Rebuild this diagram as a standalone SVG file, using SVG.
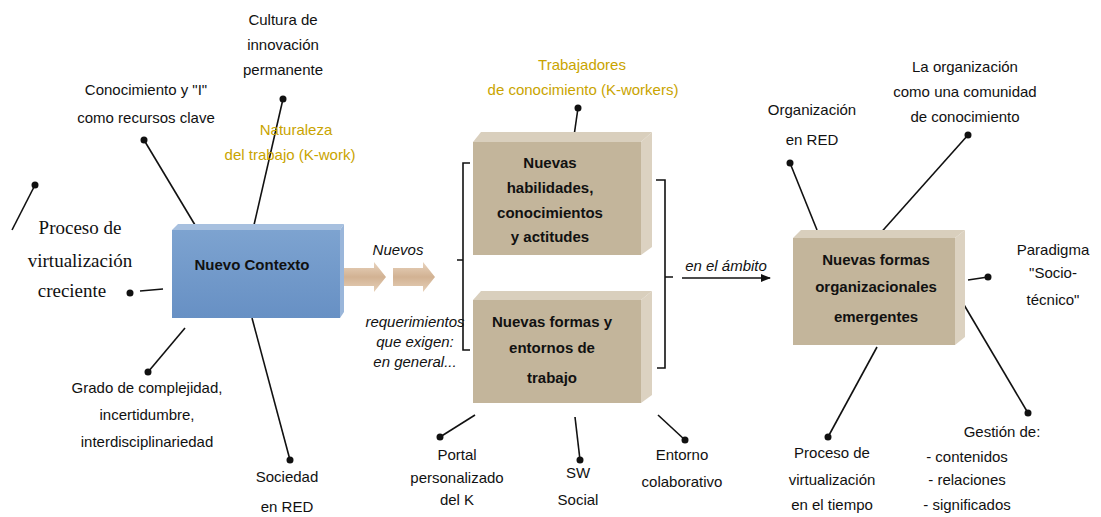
<svg xmlns="http://www.w3.org/2000/svg" width="1101" height="517" viewBox="0 0 1101 517">
<defs>
<style>
.lbl{font-family:"Liberation Sans",Arial,sans-serif;font-size:15px;fill:#111;text-anchor:middle}
.serif{font-family:"Liberation Serif","Times New Roman",serif;font-size:19px;fill:#111;text-anchor:middle}
.gold{font-family:"Liberation Sans",Arial,sans-serif;font-size:15px;fill:#c9a400;text-anchor:middle}
.box{font-family:"Liberation Sans",Arial,sans-serif;font-size:15px;font-weight:bold;fill:#111;text-anchor:middle}
.it{font-family:"Liberation Sans",Arial,sans-serif;font-size:15px;font-style:italic;fill:#111;text-anchor:middle}
.ln{stroke:#111;stroke-width:1.6;fill:none}
.dot{fill:#111}
.tan{fill:#c3b59b}
.tantop{fill:#d9cfbd}
.tanside{fill:#dcd2c1}
</style>
<linearGradient id="blue" x1="0" y1="0" x2="0" y2="1">
<stop offset="0" stop-color="#7da3d0"/><stop offset="1" stop-color="#6790c4"/>
</linearGradient>
<linearGradient id="arr" x1="0" y1="0" x2="0" y2="1">
<stop offset="0" stop-color="#e8d3bd"/><stop offset="0.5" stop-color="#d2b293"/><stop offset="1" stop-color="#e6d0b8"/>
</linearGradient>
<marker id="ah" markerWidth="10" markerHeight="8" refX="9" refY="4" orient="auto" markerUnits="userSpaceOnUse">
<path d="M0,0 L10,4 L0,8 Z" fill="#111"/>
</marker>
</defs>
<rect width="1101" height="517" fill="#fff"/>

<g id="connectors">
<path class="ln" d="M283,99 L251,238"/><circle class="dot" cx="283" cy="99" r="3.5"/>
<path class="ln" d="M144,140 L198,230"/><circle class="dot" cx="144" cy="140" r="3.5"/>
<path class="ln" d="M35,185 L12,230"/><circle class="dot" cx="35" cy="185" r="3.5"/>
<path class="ln" d="M140,291 L163,289"/><circle class="dot" cx="130" cy="293" r="3.5"/>
<path class="ln" d="M148,372 L185,328"/><circle class="dot" cx="148" cy="372" r="3.5"/>
<path class="ln" d="M290,460 L252,318"/><circle class="dot" cx="290" cy="460" r="3.5"/>
<path class="ln" d="M578,108 L573,143"/><circle class="dot" cx="578" cy="108" r="3.5"/>
<path class="ln" d="M440,437 L475,415"/><circle class="dot" cx="440" cy="437" r="3.5"/>
<path class="ln" d="M580,460 L575,417"/><circle class="dot" cx="580" cy="460" r="3.5"/>
<path class="ln" d="M685,440 L658,415"/><circle class="dot" cx="685" cy="440" r="3.5"/>
<path class="ln" d="M790,163 L817,230"/><circle class="dot" cx="790" cy="163" r="3.5"/>
<path class="ln" d="M968,135 L877,237"/><circle class="dot" cx="968" cy="135" r="3.5"/>
<path class="ln" d="M968,280 L988,277"/><circle class="dot" cx="988" cy="277" r="3.5"/>
<path class="ln" d="M828,437 L877,347"/><circle class="dot" cx="828" cy="437" r="3.5"/>
<path class="ln" d="M1028,413 L957,293"/><circle class="dot" cx="1028" cy="413" r="3.5"/>
<path class="ln" d="M470,163 H463 V350 H470 M463,260 H457"/>
<path class="ln" d="M656,180 H665 V368 H657 M665,277 H673"/>
<path class="ln" d="M682,278 H770" marker-end="url(#ah)"/>
<g id="block-arrows">
<path d="M344,268 H374 V262 L386,277 L374,292 V286 H344 Z" fill="url(#arr)"/>
<path d="M393,268 H423 V262 L435,277 L423,292 V286 H393 Z" fill="url(#arr)"/>
</g>
</g>

<g id="nuevo-contexto">
<rect x="172" y="230" width="168" height="88" fill="url(#blue)"/>
<path d="M172,230 L178,224 H344 L340,230 Z" fill="#a7c0df"/>
<path d="M340,230 L344,224 V312 L340,318 Z" fill="#9ab6da"/>
<text class="box" x="252" y="270">Nuevo Contexto</text>
</g>

<g id="habilidades">
<rect class="tan" x="473" y="142" width="168" height="113"/>
<path class="tantop" d="M473,142 L481,132 H652 L641,142 Z"/>
<path class="tanside" d="M641,142 L652,132 V247 L641,255 Z"/>
<text class="box" x="550" y="168">Nuevas</text>
<text class="box" x="550" y="193">habilidades,</text>
<text class="box" x="550" y="218">conocimientos</text>
<text class="box" x="550" y="242">y actitudes</text>
</g>

<g id="formas-trabajo">
<rect class="tan" x="473" y="300" width="168" height="103"/>
<path class="tantop" d="M473,300 L481,291 H652 L641,300 Z"/>
<path class="tanside" d="M641,300 L652,291 V395 L641,403 Z"/>
<text class="box" x="552" y="327">Nuevas formas y</text>
<text class="box" x="552" y="353">entornos de</text>
<text class="box" x="552" y="383">trabajo</text>
</g>

<g id="formas-organizacionales">
<rect class="tan" x="793" y="238" width="162" height="107"/>
<path class="tantop" d="M793,238 L801,230 H965 L955,238 Z"/>
<path class="tanside" d="M955,238 L965,230 V337 L955,345 Z"/>
<text class="box" x="876" y="265">Nuevas formas</text>
<text class="box" x="876" y="292">organizacionales</text>
<text class="box" x="876" y="322">emergentes</text>
</g>

<g id="labels">
<text class="lbl" x="283" y="25">Cultura de</text>
<text class="lbl" x="283" y="50">innovación</text>
<text class="lbl" x="283" y="75">permanente</text>
<text class="lbl" x="146" y="95">Conocimiento y "I"</text>
<text class="lbl" x="146" y="123">como recursos clave</text>
<text class="serif" x="80" y="234">Proceso de</text>
<text class="serif" x="80" y="267">virtualización</text>
<text class="serif" x="72" y="297">creciente</text>
<text class="lbl" x="147" y="393">Grado de complejidad,</text>
<text class="lbl" x="147" y="420">incertidumbre,</text>
<text class="lbl" x="147" y="447">interdisciplinariedad</text>
<text class="lbl" x="287" y="482">Sociedad</text>
<text class="lbl" x="287" y="512">en RED</text>
<text class="gold" x="296" y="135">Naturaleza</text>
<text class="gold" x="290" y="160">del trabajo (K-work)</text>
<text class="gold" x="582" y="70">Trabajadores</text>
<text class="gold" x="583" y="95">de conocimiento (K-workers)</text>
<text class="it" x="398" y="255">Nuevos</text>
<text class="it" x="415" y="327">requerimientos</text>
<text class="it" x="415" y="347">que exigen:</text>
<text class="it" x="415" y="367">en general...</text>
<text class="it" x="726" y="271">en el ámbito</text>
<text class="lbl" x="457" y="460">Portal</text>
<text class="lbl" x="457" y="483">personalizado</text>
<text class="lbl" x="457" y="505">del K</text>
<text class="lbl" x="578" y="478">SW</text>
<text class="lbl" x="578" y="505">Social</text>
<text class="lbl" x="682" y="460">Entorno</text>
<text class="lbl" x="682" y="487">colaborativo</text>
<text class="lbl" x="812" y="115">Organización</text>
<text class="lbl" x="812" y="145">en RED</text>
<text class="lbl" x="965" y="72">La organización</text>
<text class="lbl" x="965" y="97">como una comunidad</text>
<text class="lbl" x="965" y="122">de conocimiento</text>
<text class="lbl" x="1053" y="255">Paradigma</text>
<text class="lbl" x="1053" y="278">"Socio-</text>
<text class="lbl" x="1053" y="305">técnico"</text>
<text class="lbl" x="832" y="458">Proceso de</text>
<text class="lbl" x="832" y="485">virtualización</text>
<text class="lbl" x="832" y="510">en el tiempo</text>
<text class="lbl" x="1002" y="437">Gestión de:</text>
<text class="lbl" x="967" y="462" text-anchor="start">- contenidos</text>
<text class="lbl" x="967" y="485" text-anchor="start">- relaciones</text>
<text class="lbl" x="967" y="510" text-anchor="start">- significados</text>
</g>
</svg>
